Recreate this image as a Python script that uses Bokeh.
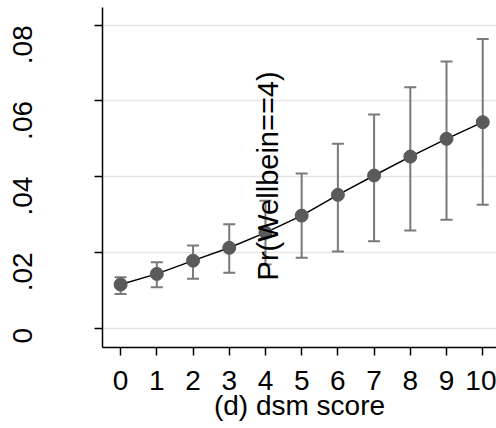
import math
from bokeh.plotting import figure
from bokeh.models import Range1d, FixedTicker, ColumnDataSource, Label
from bokeh.embed import file_html
from bokeh.resources import INLINE

# Predicted probabilities with 95% confidence intervals by dsm score
dsm_score = [0, 1, 2, 3, 4, 5, 6, 7, 8, 9, 10]
margin = [0.0115, 0.0143, 0.0178, 0.0212, 0.0252, 0.0297, 0.0352, 0.0403, 0.0453, 0.0500, 0.0544]
ci_low = [0.0090, 0.0108, 0.0130, 0.0146, 0.0168, 0.0186, 0.0202, 0.0229, 0.0258, 0.0286, 0.0326]
ci_high = [0.0134, 0.0174, 0.0218, 0.0274, 0.0336, 0.0408, 0.0487, 0.0564, 0.0636, 0.0704, 0.0764]

x_ticks = list(range(0, 11))
y_ticks = [0, 0.02, 0.04, 0.06, 0.08]
y_tick_labels = ["0", ".02", ".04", ".06", ".08"]

FONT = "Liberation Sans"
FS = "28px"

src = ColumnDataSource(dict(x=dsm_score, m=margin, lo=ci_low, hi=ci_high))

p = figure(width=496, height=428, output_backend="svg", toolbar_location=None,
           x_range=Range1d(-0.5, 10.38), y_range=Range1d(-0.00515, 0.0847),
           min_border_left=101, min_border_right=0, min_border_top=7,
           min_border_bottom=81)
p.outline_line_color = None
p.background_fill_color = "white"
p.border_fill_color = "white"

# axes
p.xaxis.ticker = FixedTicker(ticks=x_ticks)
p.yaxis.ticker = FixedTicker(ticks=y_ticks)
p.yaxis.major_label_overrides = {t: s for t, s in zip(y_ticks, y_tick_labels)}
p.yaxis.major_label_orientation = math.pi / 2
for ax in (p.xaxis, p.yaxis):
    ax.axis_line_color = "black"
    ax.axis_line_width = 1.5
    ax.major_tick_line_color = "black"
    ax.major_tick_line_width = 1.5
    ax.major_tick_out = 8
    ax.major_tick_in = 0
    ax.minor_tick_line_color = None
    ax.major_label_text_font = FONT
    ax.major_label_text_font_size = FS
    ax.major_label_text_color = "black"
p.yaxis.major_label_standoff = 72
p.xaxis.major_label_standoff = 15
p.xaxis.axis_label = "(d) dsm score"
p.xaxis.axis_label_text_font = FONT
p.xaxis.axis_label_text_font_size = FS
p.xaxis.axis_label_text_font_style = "normal"
p.xaxis.axis_label_text_color = "black"
p.xaxis.axis_label_standoff = -3

p.xgrid.grid_line_color = None
p.ygrid.grid_line_color = "#e6e6e6"
p.ygrid.grid_line_width = 1.5

# confidence intervals (capped spikes)
p.segment(x0="x", y0="lo", x1="x", y1="hi", source=src, line_color="#7a7a7a", line_width=2)
p.scatter(x="x", y="hi", source=src, marker="dash", size=12, line_color="#7a7a7a", line_width=2)
p.scatter(x="x", y="lo", source=src, marker="dash", size=12, line_color="#7a7a7a", line_width=2)

# predicted margins
p.line(x="x", y="m", source=src, line_color="black", line_width=1.5)
p.scatter(x="x", y="m", source=src, marker="circle", size=13,
          fill_color="#5a5a5a", line_color="#5a5a5a")

# y-axis title
p.add_layout(Label(x=4.08, y=0.0402, text="Pr(Wellbein==4)", angle=math.pi / 2,
                   text_align="center", text_baseline="middle",
                   text_font=FONT, text_font_size="29px", text_color="black"))

open("out.html", "w").write(file_html(p, INLINE))
